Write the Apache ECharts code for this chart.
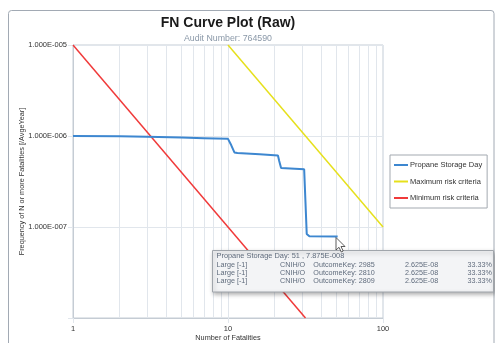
<!DOCTYPE html>
<html><head><meta charset="utf-8">
<script src="https://cdn.jsdelivr.net/npm/echarts@6/dist/echarts.min.js"></script>
<style>html,body{margin:0;padding:0;background:#fff}#c{width:495px;height:343px}</style>
</head><body><div id="c"></div>
<script>
const seriesNames = ['Propane Storage Day', 'Maximum risk criteria', 'Minimum risk criteria'];
const propaneData = [[1,1.0e-6],[2,9.95e-7],[3,9.8e-7],[5,9.6e-7],[7,9.45e-7],[10,9.3e-7],[10.5,7.9e-7],[11,6.6e-7],[11.5,6.5e-7],[16,6.3e-7],[21,6.1e-7],[21.4,5.3e-7],[22,4.45e-7],[31,4.3e-7],[31.6,1.9e-7],[32.2,8.4e-8],[33.5,7.9e-8],[51,7.875e-8]];
const maxCriteria = [[10,1e-5],[100,1e-7]];
const minCriteria = [[1,1e-5],[31.62,1e-8]];
const xMinorTicks = [2,3,4,5,6,7,8,9,20,30,40,50,60,70,80,90];
const yMinorTicks = [2e-8,3e-8,4e-8,5e-8,6e-8,7e-8,8e-8,9e-8,2e-7,3e-7,4e-7,5e-7,6e-7,7e-7,8e-7,9e-7,2e-6,3e-6,4e-6,5e-6,6e-6,7e-6,8e-6,9e-6];
const hiddenYLabels = [1e-8];
const titleText = 'FN Curve Plot (Raw)';
const subtitleText = 'Audit Number: 764590';
const xAxisName = 'Number of Fatalities';
const yAxisName = 'Frequency of N or more Fatalities [/AvgeYear]';
const tooltipHeader = 'Propane Storage Day: 51 , 7.875E-008';
const tooltipCategory = ['Large [-1]', 'Large [-1]', 'Large [-1]'];
const tooltipGroup = ['CNIH/O', 'CNIH/O', 'CNIH/O'];
const tooltipKeys = ['OutcomeKey: 2985', 'OutcomeKey: 2810', 'OutcomeKey: 2809'];
const tooltipFreq = ['2.625E-08', '2.625E-08', '2.625E-08'];
const tooltipShare = ['33.33%', '33.33%', '33.33%'];

const FONT = '"Liberation Sans", Arial, sans-serif';
const GRIDC = '#e1e6ec';

function fmtE(v) {
  const e = Math.round(Math.log10(v));
  if (hiddenYLabels.some(h => Math.abs(Math.log10(h) - e) < 1e-6)) return '';
  const m = v / Math.pow(10, e);
  const s = e < 0 ? '-' : '+';
  return m.toFixed(3) + 'E' + s + String(Math.abs(e)).padStart(3, '0');
}

const chart = echarts.init(document.getElementById('c'), null, {renderer: 'canvas'});

const TZ = 300;
const rowYs = [265, 273, 281];
const tipEls = [
  {type: 'rect', z: TZ, silent: true, shape: {x: 212.5, y: 250.5, width: 281, height: 41.5}, style: {fill: '#f3f4f6', stroke: '#a0a5ab', lineWidth: 1, shadowBlur: 4, shadowOffsetX: 1, shadowOffsetY: 2, shadowColor: 'rgba(0,0,0,0.3)'}},
  {type: 'text', z: TZ + 1, silent: true, x: 216.5, y: 255.7, style: {text: tooltipHeader, font: '7.4px ' + FONT, fill: '#5f6b7c', verticalAlign: 'middle'}}
];
const cols = [[216.5, tooltipCategory, 'left'], [280, tooltipGroup, 'left'], [313.3, tooltipKeys, 'left'], [405, tooltipFreq, 'left'], [492, tooltipShare, 'right']];
cols.forEach(([x, arr, align]) => {
  arr.forEach((t, i) => {
    tipEls.push({type: 'text', z: TZ + 1, silent: true, x: x, y: rowYs[i], style: {text: t, font: '7.2px ' + FONT, fill: '#5f6b7c', verticalAlign: 'middle', align: align}});
  });
});
tipEls.push({type: 'polygon', z: TZ + 2, silent: true, shape: {points: [[336, 237.5], [336, 250], [339, 247.3], [341.3, 252], [343.2, 251], [341, 246.5], [345, 246.5]]}, style: {fill: '#fff', stroke: '#333', lineWidth: 0.8}});

const option = {
  animation: false,
  backgroundColor: '#fff',
  grid: {left: 73, top: 45, right: 112, bottom: 25, show: true, borderColor: '#c5ccd4', borderWidth: 1, outerBoundsMode: 'none', containLabel: false},
  legend: {
    data: seriesNames,
    orient: 'vertical', left: 390, top: 155,
    borderColor: '#a3a9b0', borderWidth: 1, backgroundColor: '#fff',
    padding: [6, 5, 6, 4], itemWidth: 14, itemHeight: 2, itemGap: 8.5,
    icon: 'rect',
    textStyle: {fontSize: 7.5, color: '#333', fontFamily: FONT, padding: [0, 0, 0, -3]}
  },
  xAxis: {
    type: 'log', logBase: 10, min: 1, max: 100,
    name: xAxisName, nameLocation: 'middle', nameGap: 16, nameMoveOverlap: false,
    nameTextStyle: {fontSize: 7.3, color: '#333', fontFamily: FONT},
    axisLine: {show: true, lineStyle: {color: '#c5ccd4'}},
    axisTick: {show: true, length: 5, lineStyle: {color: GRIDC}},
    axisLabel: {fontSize: 7.5, color: '#333', fontFamily: FONT, margin: 7},
    splitLine: {show: true, lineStyle: {color: GRIDC}}
  },
  yAxis: {
    type: 'log', logBase: 10, min: 1e-8, max: 1e-5,
    name: yAxisName, nameLocation: 'middle', nameGap: 48, nameMoveOverlap: false,
    nameTextStyle: {fontSize: 7.3, color: '#333', fontFamily: FONT},
    axisLine: {show: true, lineStyle: {color: '#c5ccd4'}},
    axisTick: {show: true, length: 5, lineStyle: {color: GRIDC}},
    axisLabel: {fontSize: 7.5, color: '#333', fontFamily: FONT, margin: 6, formatter: fmtE},
    splitLine: {show: true, lineStyle: {color: GRIDC}}
  },
  series: [
    {
      name: '_grid', type: 'line', data: [], silent: true, z: 1,
      markLine: {
        silent: true, symbol: 'none', z: 1, animation: false,
        label: {show: false},
        lineStyle: {color: GRIDC, type: 'solid', width: 1},
        data: xMinorTicks.map(v => ({xAxis: v})).concat(yMinorTicks.map(v => ({yAxis: v})))
      }
    },
    {name: seriesNames[0], type: 'line', data: propaneData, showSymbol: false, z: 4, color: '#3d87d0', lineStyle: {width: 2, color: '#3d87d0'}},
    {name: seriesNames[1], type: 'line', data: maxCriteria, showSymbol: false, z: 3, color: '#e6e01c', lineStyle: {width: 1.5, color: '#e6e01c'}},
    {name: seriesNames[2], type: 'line', data: minCriteria, showSymbol: false, z: 3, color: '#f03a3a', lineStyle: {width: 1.5, color: '#f03a3a'}}
  ],
  graphic: {
    elements: [
      {type: 'rect', z: TZ, silent: true, shape: {x: 8.5, y: 10.5, width: 485.5, height: 345, r: 3}, style: {fill: 'none', stroke: '#a2aab4', lineWidth: 1}},
      {type: 'text', z: TZ, x: 228, y: 23, style: {text: titleText, font: 'bold 14px ' + FONT, fill: '#1a1a1a', align: 'center', verticalAlign: 'middle'}},
      {type: 'text', z: TZ, x: 228, y: 39, style: {text: subtitleText, font: '8.8px ' + FONT, fill: '#8a98a8', align: 'center', verticalAlign: 'middle'}}
    ].concat(tipEls)
  }
};
chart.setOption(option);
</script>
</body></html>
